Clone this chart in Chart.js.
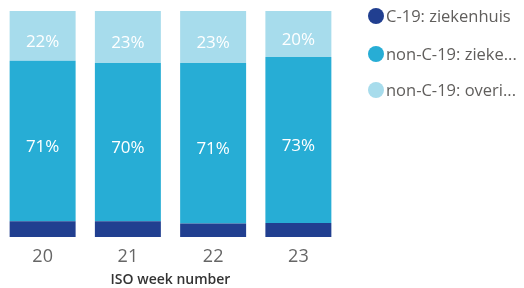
<!DOCTYPE html>
<html>
<head>
<meta charset="utf-8">
<script src="https://cdn.jsdelivr.net/npm/chart.js@4/dist/chart.umd.min.js"></script>
<style>
  html, body { margin: 0; padding: 0; background: #fff; overflow: hidden; }
  #wrap { position: relative; width: 524px; height: 288px; }
  canvas { display: block; }
  #legend { position: absolute; left: 368px; top: 0; margin: 0; padding: 0; list-style: none;
            font-family: "Open Sans", "DejaVu Sans", sans-serif; font-size: 16.5px; color: #605e5c; }
  #legend li { position: absolute; left: 0; white-space: nowrap; height: 20px; line-height: 20px; }
  #legend .dot { position: absolute; left: 0; top: 2px; width: 16px; height: 16px; border-radius: 50%; }
  #legend .txt { position: absolute; left: 18px; top: 0; }
</style>
</head>
<body>
<div id="wrap">
  <canvas id="c" width="524" height="288"></canvas>
  <ul id="legend"></ul>
</div>
<script>
const weeks = ["20", "21", "22", "23"];
const seriesNames = ["C-19: ziekenhuis", "non-C-19: zieke...", "non-C-19: overi..."];
const c19Hospital = [7, 7, 6, 6.2];
const nonC19Hospital = [71, 70, 71, 73.4];
const nonC19Other = [22, 23, 23, 20.4];
const colors = ["#213f90", "#27add5", "#a7dcec"];
const axisTitle = "ISO week number";

const fontFamily = '"Open Sans", "DejaVu Sans", sans-serif';

const valueLabels = {
  id: 'valueLabels',
  afterDatasetsDraw(chart) {
    const ctx = chart.ctx;
    ctx.save();
    ctx.fillStyle = '#ffffff';
    ctx.font = '17px ' + fontFamily;
    ctx.textAlign = 'center';
    ctx.textBaseline = 'middle';
    chart.data.datasets.forEach((ds, di) => {
      if (!ds.showValue) return;
      const meta = chart.getDatasetMeta(di);
      meta.data.forEach((bar, i) => {
        const p = bar.getProps(['x', 'y', 'base'], true);
        ctx.fillText(Math.round(ds.data[i]) + '%', p.x, (p.y + p.base) / 2 + 6);
      });
    });
    ctx.restore();
  }
};

const htmlLegend = {
  id: 'htmlLegend',
  afterUpdate(chart) {
    const ul = document.getElementById('legend');
    ul.innerHTML = '';
    const items = chart.options.plugins.legend.labels.generateLabels(chart);
    const rowY = [6, 44, 80];
    items.forEach((item, k) => {
      const li = document.createElement('li');
      li.style.top = rowY[k] + 'px';
      const dot = document.createElement('span');
      dot.className = 'dot';
      dot.style.background = item.fillStyle;
      const txt = document.createElement('span');
      txt.className = 'txt';
      txt.textContent = item.text;
      li.appendChild(dot);
      li.appendChild(txt);
      ul.appendChild(li);
    });
  }
};

new Chart(document.getElementById('c'), {
  type: 'bar',
  data: {
    labels: weeks,
    datasets: [
      { label: seriesNames[0], data: c19Hospital, backgroundColor: colors[0], showValue: false },
      { label: seriesNames[1], data: nonC19Hospital, backgroundColor: colors[1], showValue: true },
      { label: seriesNames[2], data: nonC19Other, backgroundColor: colors[2], showValue: true }
    ]
  },
  options: {
    responsive: false,
    animation: false,
    devicePixelRatio: 1,
    layout: { padding: { left: 0, right: 183, top: 11, bottom: 1 } },
    datasets: { bar: { barPercentage: 0.774, categoryPercentage: 1.0 } },
    plugins: {
      legend: { display: false },
      tooltip: { enabled: false }
    },
    scales: {
      x: {
        stacked: true,
        grid: { display: false, drawTicks: false },
        border: { display: false },
        ticks: { color: '#666666', font: { family: fontFamily, size: 18 }, padding: 9 },
        title: { display: true, text: axisTitle, color: '#333333',
                 font: { family: fontFamily, size: 14, weight: '600', lineHeight: 1 },
                 padding: { top: -3.6, bottom: 0 } }
      },
      y: {
        stacked: true,
        display: false,
        min: 0,
        max: 100
      }
    }
  },
  plugins: [valueLabels, htmlLegend]
});
</script>
</body>
</html>
